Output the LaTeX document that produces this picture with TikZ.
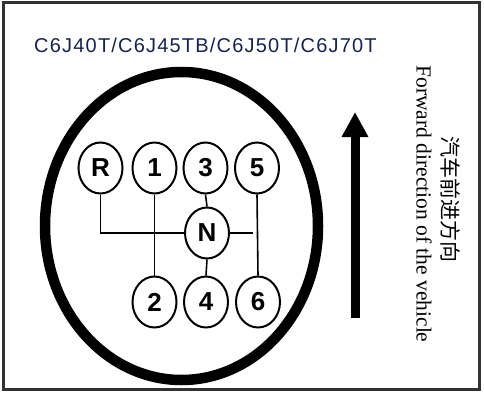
\documentclass[tikz,border=0pt]{standalone}
\usepackage{fontspec}
\usetikzlibrary{shapes.geometric,arrows.meta}
\setmainfont{Liberation Serif}
\newfontfamily\titlefont[LetterSpace=6]{Liberation Sans}
\newfontfamily\gearfont{Liberation Sans}
\newfontfamily\cjkfont{Noto Sans CJK SC}
\definecolor{titleblue}{RGB}{25,35,80}
\definecolor{framegray}{RGB}{50,50,50}
\tikzset{
  gear/.style={ellipse, draw, line width=2pt, minimum width=44pt, minimum height=51pt,
    inner sep=0pt, font=\gearfont\bfseries\fontsize{26}{26}\selectfont},
  gline/.style={line width=1.6pt},
}
\begin{document}
\begin{tikzpicture}[x=1pt,y=-1pt]
\useasboundingbox (0,0) rectangle (484,393);
\fill[white] (0,0) rectangle (484,393);
\draw[framegray, line width=3pt] (3,3) rectangle (479,389);
\node[anchor=base west, inner sep=0pt, text=titleblue, font=\titlefont\fontsize{20}{20}\selectfont] (title) at (34,53) {C6J40T/C6J45TB/C6J50T/C6J70T};
\draw[line width=10.5pt] (181.5,226) ellipse [x radius=136.5, y radius=154];
\node[gear] (R) at (100.5,168) {R};
\node[gear] (g1) at (154.5,168) {1};
\node[gear] (g3) at (205.5,168) {3};
\node[gear] (g5) at (257,168) {5};
\node[gear] (N) at (207,233) {N};
\node[gear] (g2) at (154.5,302) {2};
\node[gear] (g4) at (206,302) {4};
\node[gear] (g6) at (258,302) {6};
\coordinate (nj) at (253,233);
\draw[gline] (R.south) |- (N.west);
\draw[gline] (g1.south) -- (g2.north);
\draw[gline] (g3.south) -- (N.north);
\draw[gline] (N.south) -- (g4.north);
\draw[gline] (g5.south) -- (g6.north);
\draw[gline] (N.east) -- (nj);
\coordinate (atail) at (355,318);
\coordinate (ahead) at (355,112);
\draw[line width=9pt, -{Triangle[width=25pt,length=25pt]}] (atail) -- (ahead);
\node[rotate=-90, inner sep=0pt, font=\fontsize{21.5}{21.5}\selectfont] (en) at (424,204) {Forward direction of the vehicle};
\node[rotate=-90, inner sep=0pt, font=\cjkfont\fontsize{21}{21}\selectfont] (cn) at (451,199) {汽车前进方向};
\end{tikzpicture}
\end{document}
